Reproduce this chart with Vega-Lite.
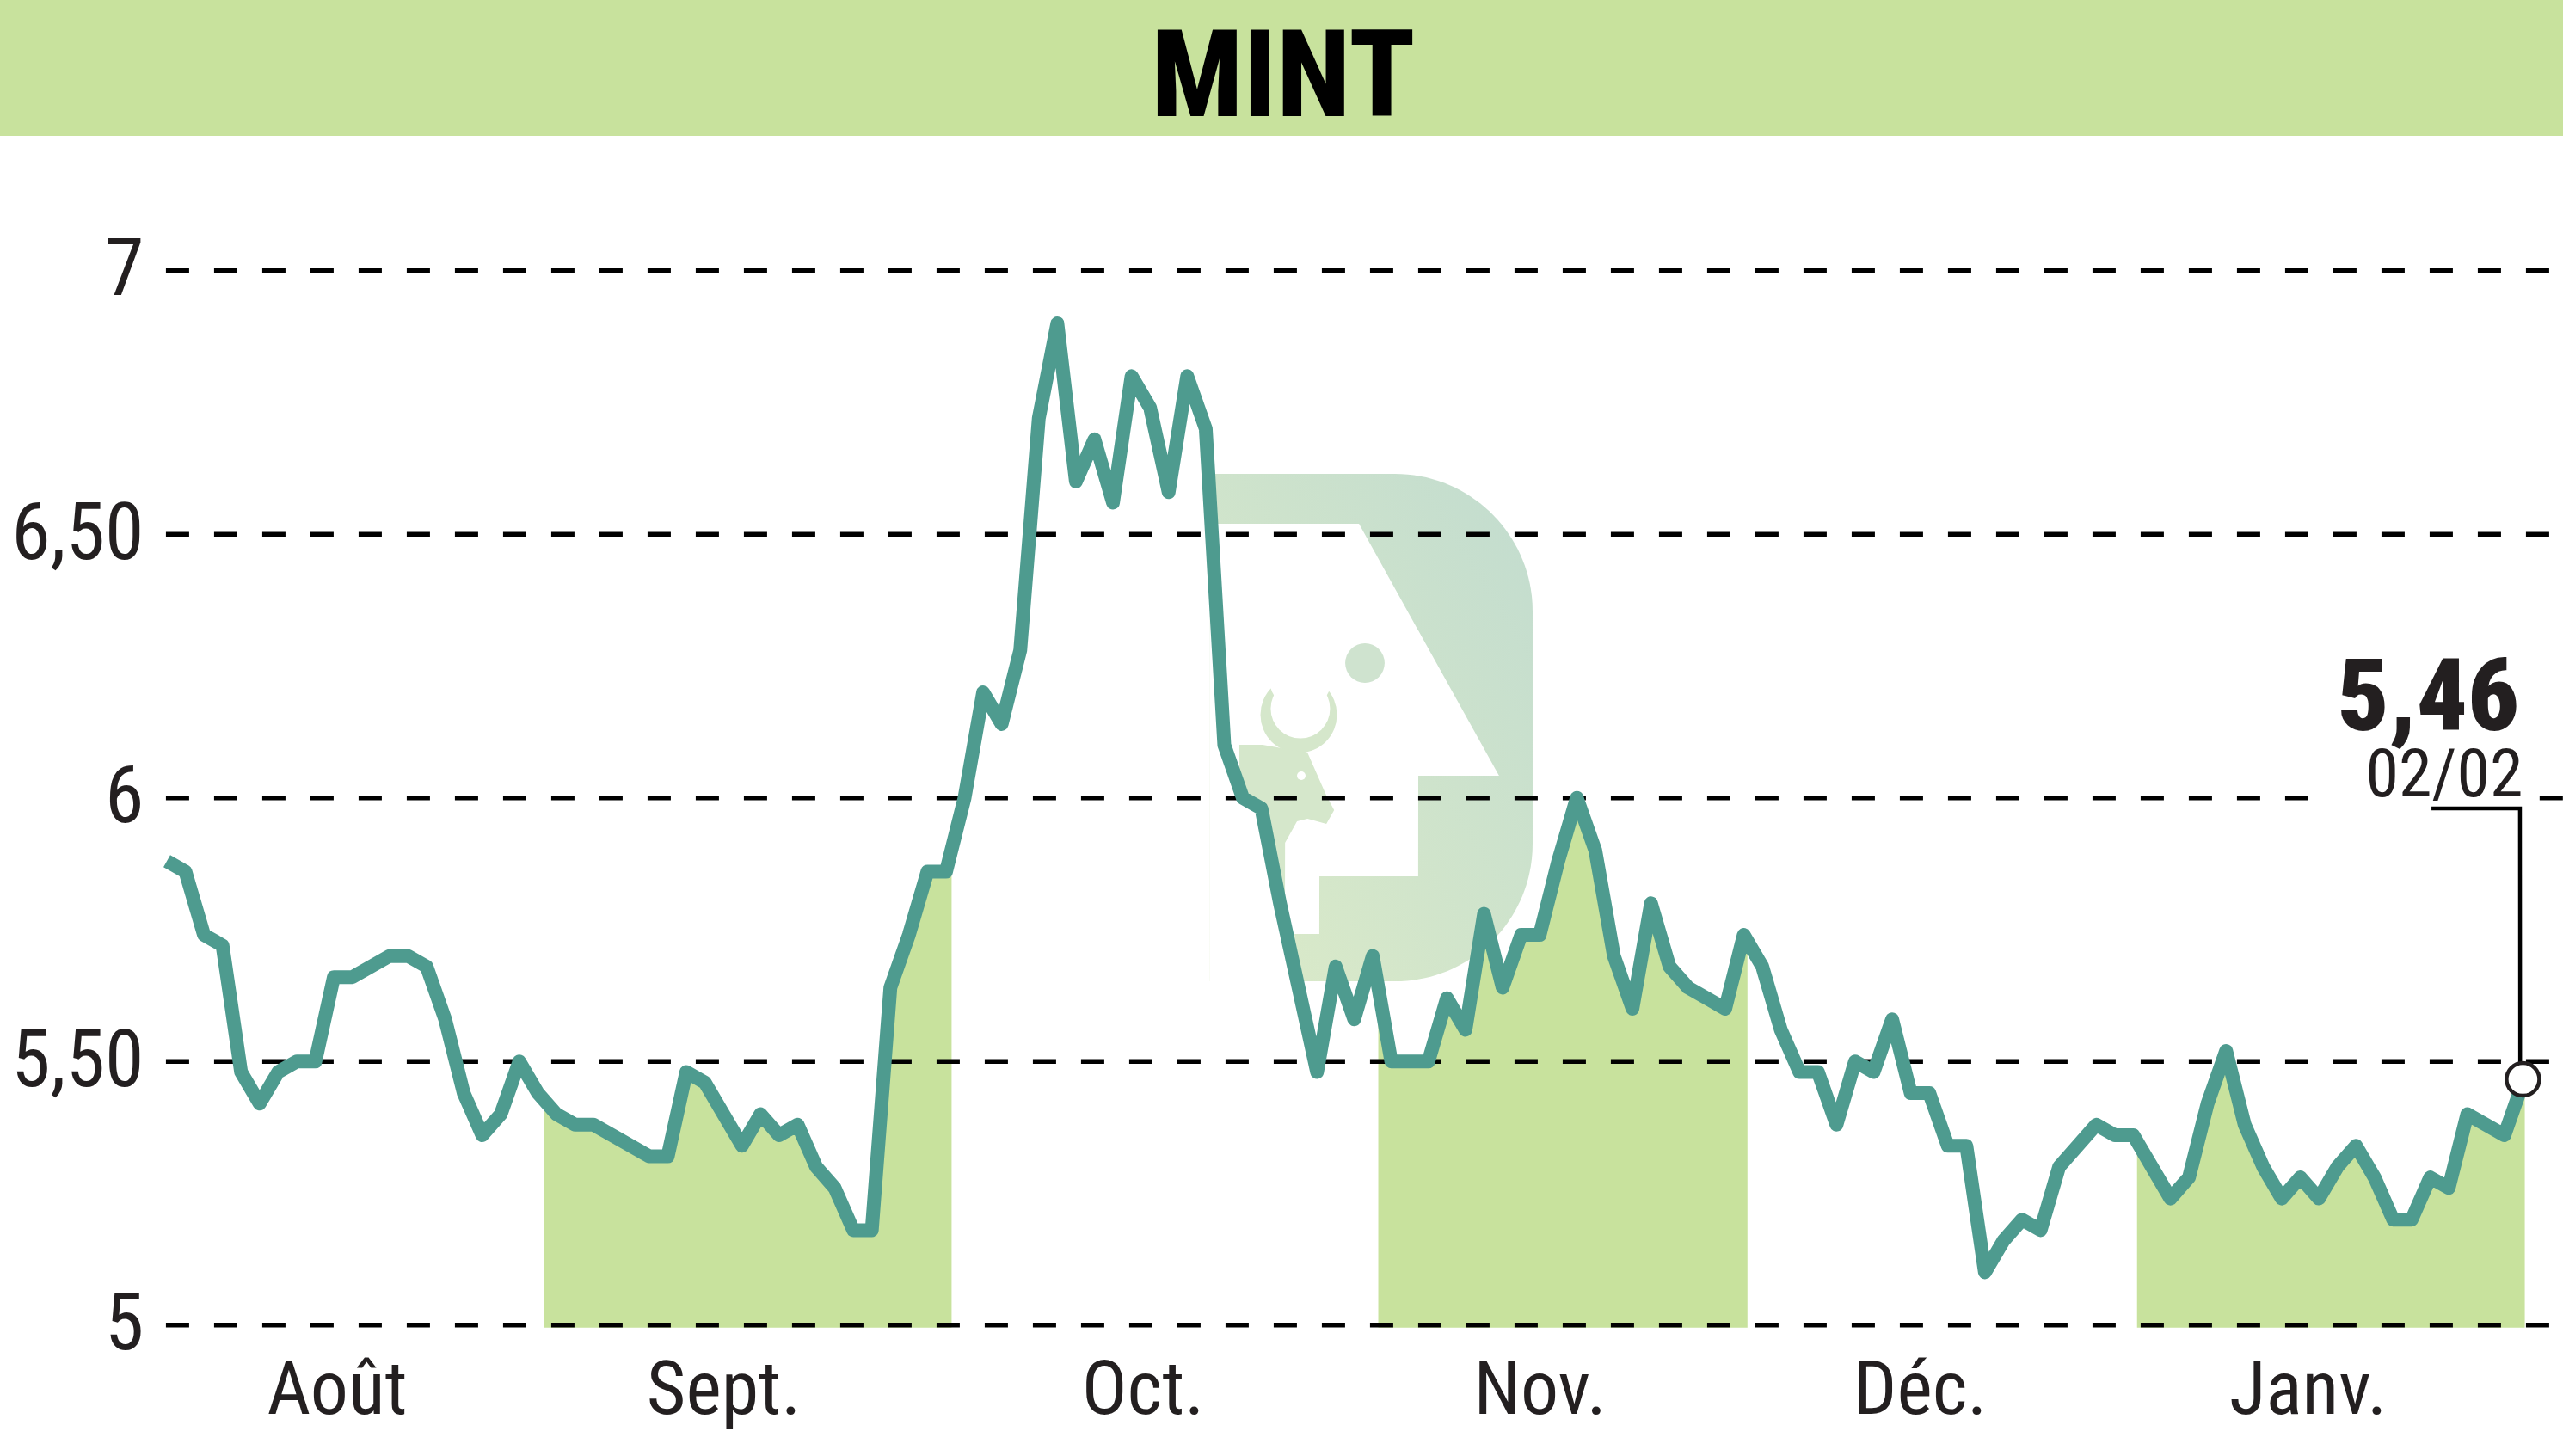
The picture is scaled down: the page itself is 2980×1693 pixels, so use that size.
{"$schema":"https://vega.github.io/schema/vega-lite/v6.json","width":2980,"height":1693,"padding":0,"autosize":{"type":"none"},"background":"white","view":{"stroke":null},
"datasets":{
"prices":[{"day":0,"price":5.88},{"day":1,"price":5.86},{"day":2,"price":5.74},{"day":3,"price":5.72},{"day":4,"price":5.48},{"day":5,"price":5.42},{"day":6,"price":5.48},{"day":7,"price":5.5},{"day":8,"price":5.5},{"day":9,"price":5.66},{"day":10,"price":5.66},{"day":11,"price":5.68},{"day":12,"price":5.7},{"day":13,"price":5.7},{"day":14,"price":5.68},{"day":15,"price":5.58},{"day":16,"price":5.44},{"day":17,"price":5.36},{"day":18,"price":5.4},{"day":19,"price":5.5},{"day":20,"price":5.44},{"day":21,"price":5.4},{"day":22,"price":5.38},{"day":23,"price":5.38},{"day":24,"price":5.36},{"day":25,"price":5.34},{"day":26,"price":5.32},{"day":27,"price":5.32},{"day":28,"price":5.48},{"day":29,"price":5.46},{"day":30,"price":5.4},{"day":31,"price":5.34},{"day":32,"price":5.4},{"day":33,"price":5.36},{"day":34,"price":5.38},{"day":35,"price":5.3},{"day":36,"price":5.26},{"day":37,"price":5.18},{"day":38,"price":5.18},{"day":39,"price":5.64},{"day":40,"price":5.74},{"day":41,"price":5.86},{"day":42,"price":5.86},{"day":43,"price":6.0},{"day":44,"price":6.2},{"day":45,"price":6.14},{"day":46,"price":6.28},{"day":47,"price":6.72},{"day":48,"price":6.9},{"day":49,"price":6.6},{"day":50,"price":6.68},{"day":51,"price":6.56},{"day":52,"price":6.8},{"day":53,"price":6.74},{"day":54,"price":6.58},{"day":55,"price":6.8},{"day":56,"price":6.7},{"day":57,"price":6.1},{"day":58,"price":6.0},{"day":59,"price":5.98},{"day":60,"price":5.8},{"day":61,"price":5.64},{"day":62,"price":5.48},{"day":63,"price":5.68},{"day":64,"price":5.58},{"day":65,"price":5.7},{"day":66,"price":5.5},{"day":67,"price":5.5},{"day":68,"price":5.5},{"day":69,"price":5.62},{"day":70,"price":5.56},{"day":71,"price":5.78},{"day":72,"price":5.64},{"day":73,"price":5.74},{"day":74,"price":5.74},{"day":75,"price":5.88},{"day":76,"price":6.0},{"day":77,"price":5.9},{"day":78,"price":5.7},{"day":79,"price":5.6},{"day":80,"price":5.8},{"day":81,"price":5.68},{"day":82,"price":5.64},{"day":83,"price":5.62},{"day":84,"price":5.6},{"day":85,"price":5.74},{"day":86,"price":5.68},{"day":87,"price":5.56},{"day":88,"price":5.48},{"day":89,"price":5.48},{"day":90,"price":5.38},{"day":91,"price":5.5},{"day":92,"price":5.48},{"day":93,"price":5.58},{"day":94,"price":5.44},{"day":95,"price":5.44},{"day":96,"price":5.34},{"day":97,"price":5.34},{"day":98,"price":5.1},{"day":99,"price":5.16},{"day":100,"price":5.2},{"day":101,"price":5.18},{"day":102,"price":5.3},{"day":103,"price":5.34},{"day":104,"price":5.38},{"day":105,"price":5.36},{"day":106,"price":5.36},{"day":107,"price":5.3},{"day":108,"price":5.24},{"day":109,"price":5.28},{"day":110,"price":5.42},{"day":111,"price":5.52},{"day":112,"price":5.38},{"day":113,"price":5.3},{"day":114,"price":5.24},{"day":115,"price":5.28},{"day":116,"price":5.24},{"day":117,"price":5.3},{"day":118,"price":5.34},{"day":119,"price":5.28},{"day":120,"price":5.2},{"day":121,"price":5.2},{"day":122,"price":5.28},{"day":123,"price":5.26},{"day":124,"price":5.4},{"day":125,"price":5.38},{"day":126,"price":5.36},{"day":127,"price":5.46}],
"shaded":[{"period":"Sept.","day":20.35,"price":5.43},{"period":"Sept.","day":21,"price":5.4},{"period":"Sept.","day":22,"price":5.38},{"period":"Sept.","day":23,"price":5.38},{"period":"Sept.","day":24,"price":5.36},{"period":"Sept.","day":25,"price":5.34},{"period":"Sept.","day":26,"price":5.32},{"period":"Sept.","day":27,"price":5.32},{"period":"Sept.","day":28,"price":5.48},{"period":"Sept.","day":29,"price":5.46},{"period":"Sept.","day":30,"price":5.4},{"period":"Sept.","day":31,"price":5.34},{"period":"Sept.","day":32,"price":5.4},{"period":"Sept.","day":33,"price":5.36},{"period":"Sept.","day":34,"price":5.38},{"period":"Sept.","day":35,"price":5.3},{"period":"Sept.","day":36,"price":5.26},{"period":"Sept.","day":37,"price":5.18},{"period":"Sept.","day":38,"price":5.18},{"period":"Sept.","day":39,"price":5.64},{"period":"Sept.","day":40,"price":5.74},{"period":"Sept.","day":41,"price":5.86},{"period":"Sept.","day":42,"price":5.86},{"period":"Sept.","day":42.3,"price":5.86},{"period":"Nov.","day":65.3,"price":5.64},{"period":"Nov.","day":66,"price":5.5},{"period":"Nov.","day":67,"price":5.5},{"period":"Nov.","day":68,"price":5.5},{"period":"Nov.","day":69,"price":5.62},{"period":"Nov.","day":70,"price":5.56},{"period":"Nov.","day":71,"price":5.78},{"period":"Nov.","day":72,"price":5.64},{"period":"Nov.","day":73,"price":5.74},{"period":"Nov.","day":74,"price":5.74},{"period":"Nov.","day":75,"price":5.88},{"period":"Nov.","day":76,"price":6.0},{"period":"Nov.","day":77,"price":5.9},{"period":"Nov.","day":78,"price":5.7},{"period":"Nov.","day":79,"price":5.6},{"period":"Nov.","day":80,"price":5.8},{"period":"Nov.","day":81,"price":5.68},{"period":"Nov.","day":82,"price":5.64},{"period":"Nov.","day":83,"price":5.62},{"period":"Nov.","day":84,"price":5.6},{"period":"Nov.","day":85,"price":5.74},{"period":"Nov.","day":85.2,"price":5.73},{"period":"Janv.","day":106.2,"price":5.35},{"period":"Janv.","day":107,"price":5.3},{"period":"Janv.","day":108,"price":5.24},{"period":"Janv.","day":109,"price":5.28},{"period":"Janv.","day":110,"price":5.42},{"period":"Janv.","day":111,"price":5.52},{"period":"Janv.","day":112,"price":5.38},{"period":"Janv.","day":113,"price":5.3},{"period":"Janv.","day":114,"price":5.24},{"period":"Janv.","day":115,"price":5.28},{"period":"Janv.","day":116,"price":5.24},{"period":"Janv.","day":117,"price":5.3},{"period":"Janv.","day":118,"price":5.34},{"period":"Janv.","day":119,"price":5.28},{"period":"Janv.","day":120,"price":5.2},{"period":"Janv.","day":121,"price":5.2},{"period":"Janv.","day":122,"price":5.28},{"period":"Janv.","day":123,"price":5.26},{"period":"Janv.","day":124,"price":5.4},{"period":"Janv.","day":125,"price":5.38},{"period":"Janv.","day":126,"price":5.36},{"period":"Janv.","day":127,"price":5.46},{"period":"Janv.","day":127.1,"price":5.46}],
"grid":[{"day":-0.05,"day2":129.2,"price":5},{"day":-0.05,"day2":129.2,"price":5.5},{"day":-0.05,"day2":116.04,"price":6},{"day":127.9,"day2":129.2,"price":6},{"day":-0.05,"day2":129.2,"price":6.5},{"day":-0.05,"day2":129.2,"price":7}],
"callout":[{"day":122.07,"price":5.98},{"day":126.84,"price":5.98},{"day":126.85,"price":5.48}],
"logoWhite":[{"day":56.2,"price":6.5199,"price2":5.6455},{"day":60.78,"price":6.5199,"price2":5.6455},{"day":60.785,"price":6.5199,"price2":5.7417},{"day":62.12,"price":6.5199,"price2":5.7417},{"day":62.125,"price":6.5199,"price2":5.851},{"day":64.26,"price":6.5199,"price2":5.851},{"day":67.45,"price":6.3176,"price2":5.851},{"day":67.455,"price":6.3176,"price2":6.0419},{"day":71.81,"price":6.0419,"price2":6.0419}],
"logoHead":[{"day":57.81,"price":6.1007,"price2":6.0028},{"day":59.06,"price":6.1007,"price2":5.9767},{"day":59.85,"price":6.0958,"price2":5.7989},{"day":60.27,"price":6.0925,"price2":5.7989},{"day":60.275,"price":6.0925,"price2":5.9147},{"day":60.92,"price":6.0893,"price2":5.9555},{"day":61.48,"price":6.086,"price2":5.9604},{"day":62.5,"price":6.0044,"price2":5.9506},{"day":62.92,"price":5.9767,"price2":5.9767}]
},
"encoding":{
"x":{"field":"day","type":"quantitative","title":null,"scale":{"domain":[-8.994,129.16],"nice":false,"zero":false},"axis":{"values":[9.16,30,52.6,74,94.5,115.4],"labelExpr":"datum.value<20?'Août':datum.value<40?'Sept.':datum.value<60?'Oct.':datum.value<85?'Nov.':datum.value<105?'Déc.':'Janv.'","domain":false,"ticks":false,"grid":false,"labelPadding":-50,"labelBaseline":"alphabetic","labelAlign":"center","labelFont":"Roboto Condensed","labelFontWeight":400,"labelFontSize":88,"labelColor":"#231f20","labelOverlap":false,"labelFlush":false,"labelBound":false,"labelLimit":600}},
"y":{"field":"price","type":"quantitative","title":null,"scale":{"domain":[4.7516,7.5134],"nice":false,"zero":false},"axis":{"values":[5,5.5,6,6.5,7],"labelExpr":"datum.value==5.5?'5,50':datum.value==6.5?'6,50':toString(datum.value)","domain":false,"ticks":false,"grid":false,"labelPadding":-167,"labelAlign":"right","labelBaseline":"middle","labelFont":"Roboto Condensed","labelFontWeight":400,"labelFontSize":92,"labelColor":"#231f20","labelOverlap":false,"labelBound":false,"labelLimit":600}}
},
"layer":[
{"data":{"values":[{"day":-8.994,"day2":129.16,"price":7.5134,"price2":7.2556}]},"mark":{"type":"rect","fill":"#c8e29d"},"encoding":{"x2":{"field":"day2"},"y2":{"field":"price2"}}},
{"data":{"values":[{"day":60.18,"price":7.2925,"label":"MINT"}]},"mark":{"type":"text","font":"Roboto Condensed","fontWeight":800,"fontSize":141,"align":"center","baseline":"alphabetic","fill":"#000000"},"encoding":{"text":{"field":"label"}}},
{"data":{"values":[{"day":56.2,"day2":73.62,"price":6.6145,"price2":5.652}]},"mark":{"type":"rect","cornerRadiusTopRight":160,"cornerRadiusBottomRight":160,"fill":{"gradient":"linear","x1":1,"y1":0,"x2":0,"y2":1,"stops":[{"offset":0,"color":"#c2dccf"},{"offset":1,"color":"#dcebc8"}]}},"encoding":{"x2":{"field":"day2"},"y2":{"field":"price2"}}},
{"data":{"name":"logoWhite"},"mark":{"type":"area","fill":"white"},"encoding":{"y2":{"field":"price2"}}},
{"data":{"values":[{"day":64.58,"price":6.2557}]},"mark":{"type":"point","shape":"circle","filled":true,"fill":"#cfe3cf","size":2100,"opacity":1,"stroke":null}},
{"data":{"values":[{"day":61.01,"price":6.1578}]},"mark":{"type":"point","shape":"circle","filled":true,"fill":"#d5e7cb","size":7921,"opacity":1,"stroke":null}},
{"data":{"values":[{"day":61.1,"price":6.1692}]},"mark":{"type":"point","shape":"circle","filled":true,"fill":"white","size":4761,"opacity":1,"stroke":null}},
{"data":{"values":[{"day":61.1,"price":6.2247}]},"mark":{"type":"point","shape":"circle","filled":true,"fill":"white","size":5184,"opacity":1,"stroke":null}},
{"data":{"name":"logoHead"},"mark":{"type":"area","fill":"#d5e7cb"},"encoding":{"y2":{"field":"price2"}}},
{"data":{"values":[{"day":61.15,"price":6.0419}]},"mark":{"type":"point","shape":"circle","filled":true,"fill":"white","size":100,"opacity":1,"stroke":null}},
{"data":{"name":"shaded"},"mark":{"type":"area","fill":"#c8e29d"},"encoding":{"y2":{"datum":4.995},"detail":{"field":"period"}}},
{"data":{"name":"grid"},"mark":{"type":"rule","stroke":"#000000","strokeWidth":5.5,"strokeDash":[27,29]},"encoding":{"x2":{"field":"day2"}}},
{"data":{"name":"prices"},"mark":{"type":"line","stroke":"#4e9b8f","strokeWidth":16,"strokeJoin":"round"}},
{"data":{"name":"callout"},"mark":{"type":"line","stroke":"#000000","strokeWidth":4.5,"strokeJoin":"miter"}},
{"data":{"values":[{"day":127,"price":5.466}]},"mark":{"type":"point","shape":"circle","filled":false,"fill":"white","stroke":"#231f20","strokeWidth":4.5,"size":1450,"opacity":1}},
{"data":{"values":[{"day":126.8,"price":6.128,"label":"5,46"}]},"mark":{"type":"text","font":"Roboto Condensed","fontWeight":900,"fontSize":117,"align":"right","baseline":"alphabetic","fill":"#231f20"},"encoding":{"text":{"field":"label"}}},
{"data":{"values":[{"day":127,"price":6.0036,"label":"02/02"}]},"mark":{"type":"text","font":"Roboto Condensed","fontWeight":400,"fontSize":78,"align":"right","baseline":"alphabetic","fill":"#231f20"},"encoding":{"text":{"field":"label"}}}
]}
